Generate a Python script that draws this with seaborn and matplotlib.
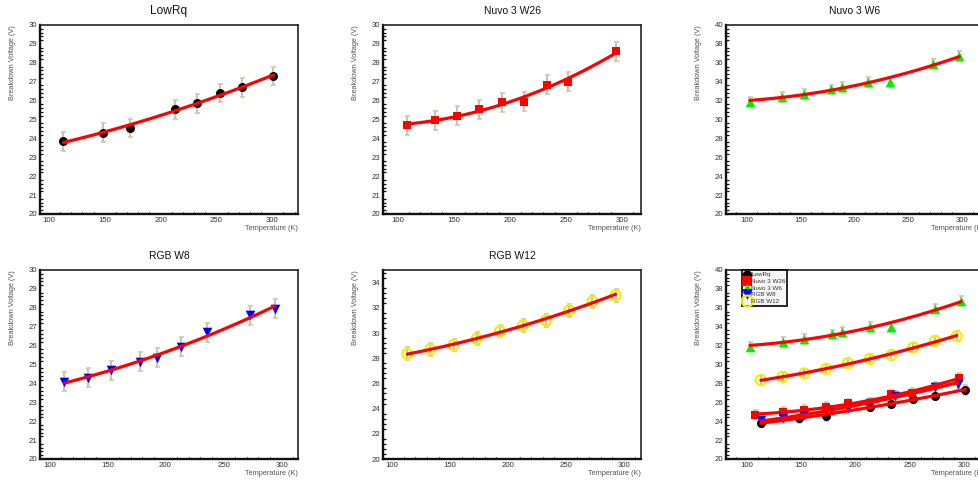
import numpy as np
import matplotlib
matplotlib.use("Agg")
import matplotlib.pyplot as plt
import seaborn as sns
from matplotlib.ticker import MultipleLocator

sns.set_style("white")
plt.rcParams['font.family'] = ['Liberation Sans', 'DejaVu Sans']

# breakdown voltage vs temperature (error +-0.5 V)
lowrq_t = [113, 148, 173, 213, 233, 253, 273, 301]
lowrq_v = [23.85, 24.3, 24.55, 25.55, 25.85, 26.4, 26.7, 27.3]

w26_t = [108, 133, 153, 173, 193, 213, 233, 252, 295]
w26_v = [24.7, 24.95, 25.2, 25.55, 25.9, 25.95, 26.85, 27.0, 28.6]

w6_t = [103, 133, 153, 178, 188, 213, 233, 273, 297]
w6_v = [31.9, 32.4, 32.7, 33.2, 33.45, 33.95, 33.95, 35.9, 36.7]

w8_t = [113, 133, 153, 178, 193, 213, 236, 273, 294]
w8_v = [24.1, 24.3, 24.7, 25.15, 25.35, 25.95, 26.7, 27.6, 27.95]

w12_t = [113, 133, 153, 173, 193, 213, 233, 253, 273, 293]
w12_v = [28.35, 28.7, 29.05, 29.55, 30.15, 30.6, 31.0, 31.8, 32.5, 33.0]

v_err = 0.5

names = ["LowRq", "Nuvo 3 W26", "Nuvo 3 W6", "RGB W8", "RGB W12"]

series = [
    (lowrq_t, lowrq_v, "o", "black", False, 42),
    (w26_t, w26_v, "s", "#ff0000", False, 40),
    (w6_t, w6_v, "^", "#00ee00", False, 48),
    (w8_t, w8_v, "v", "#0000ff", False, 48),
    (w12_t, w12_v, "o", "#f5ee00", True, 52),
]

W, H = 979, 482
col_left = [40, 383, 726]
row_top = [25, 270]
ax_w, ax_h = 258, 189

xlims = [(92, 323), (87, 317), (81, 320), (92, 314), (92, 315), (81, 318)]
ylims = [(20, 30), (20, 30), (20, 40), (20, 30), (20, 35), (20, 40)]
ymaj = [1, 1, 2, 1, 2, 2]
titles = ["LowRq", "Nuvo 3 W26", "Nuvo 3 W6", "RGB W8", "RGB W12", ""]
title_size = [8.6, 7.5, 7.5, 7.4, 7.5, 7.5]


def draw(ax, idx, label=None):
    t, v, mk, col, hollow, s = series[idx]
    ax.errorbar(t, v, yerr=v_err, fmt="none", ecolor="#cdc4a6",
                elinewidth=1.4, capsize=1.8, capthick=1.1, zorder=1)
    if hollow:
        sns.scatterplot(x=t, y=v, ax=ax, marker=mk, s=s, facecolor="none",
                        edgecolor=col, linewidth=1.6, zorder=2, label=label)
    else:
        sns.scatterplot(x=t, y=v, ax=ax, marker=mk, s=s, color=col,
                        edgecolor=col, linewidth=0, zorder=2, label=label)
    # quadratic fit of the points, like the original fit curves
    coef = np.polyfit(t, v, 2)
    tt = np.linspace(min(t), max(t), 100)
    sns.lineplot(x=tt, y=np.polyval(coef, tt), ax=ax, color="#ff0000",
                 linewidth=2.3, zorder=3, legend=False)


fig = plt.figure(figsize=(W / 100, H / 100), dpi=100)

for k in range(6):
    r, c = divmod(k, 3)
    ax = fig.add_axes([col_left[c] / W, 1 - (row_top[r] + ax_h) / H, ax_w / W, ax_h / H])
    if k < 5:
        draw(ax, k)
    else:
        for i in range(5):
            draw(ax, i, label=names[i])
        leg = ax.legend(loc="upper left", bbox_to_anchor=(0.062, 1.0), borderaxespad=0,
                        fontsize=4.5, markerscale=1.1, borderpad=0.3, labelspacing=0.2,
                        handletextpad=0.05, handlelength=1.1, fancybox=False, framealpha=1,
                        edgecolor="black", facecolor="#f6f6f6")
        leg.get_frame().set_linewidth(1.2)
        for txt in leg.get_texts():
            txt.set_color("#333333")

    ax.set_xlim(*xlims[k])
    ax.set_ylim(*ylims[k])
    ax.xaxis.set_major_locator(MultipleLocator(50))
    ax.xaxis.set_minor_locator(MultipleLocator(10))
    ax.yaxis.set_major_locator(MultipleLocator(ymaj[k]))
    ax.yaxis.set_minor_locator(MultipleLocator(ymaj[k] / 5))
    ax.tick_params(axis="both", which="both", direction="in", colors="#111111",
                   labelcolor="#333333", labelsize=5.6, pad=2, width=0.9)
    ax.tick_params(axis="y", which="major", length=5)
    ax.tick_params(axis="y", which="minor", length=2.5, left=True)
    ax.tick_params(axis="x", which="major", length=3)
    ax.tick_params(axis="x", which="minor", length=1.6, bottom=True)

    for side in ["left", "bottom"]:
        ax.spines[side].set_linewidth(1.7)
        ax.spines[side].set_color("#111111")
    for side in ["top", "right"]:
        ax.spines[side].set_linewidth(1.2)
        ax.spines[side].set_color("#222222")

    ax.set_xlabel("Temperature (K)", fontsize=5.3, color="#555555", loc="right")
    ax.xaxis.set_label_coords(1.0, -0.058)
    ax.set_ylabel("Breakdown Voltage (V)", fontsize=5.3, color="#555555", loc="top")
    ax.yaxis.set_label_coords(-0.093, 1.0)

    if titles[k]:
        ax.text(0.5, 1 + 14 / ax_h, titles[k], transform=ax.transAxes, ha="center",
                va="center", fontsize=title_size[k], color="#111111")

fig.savefig("out.png", dpi=100)
